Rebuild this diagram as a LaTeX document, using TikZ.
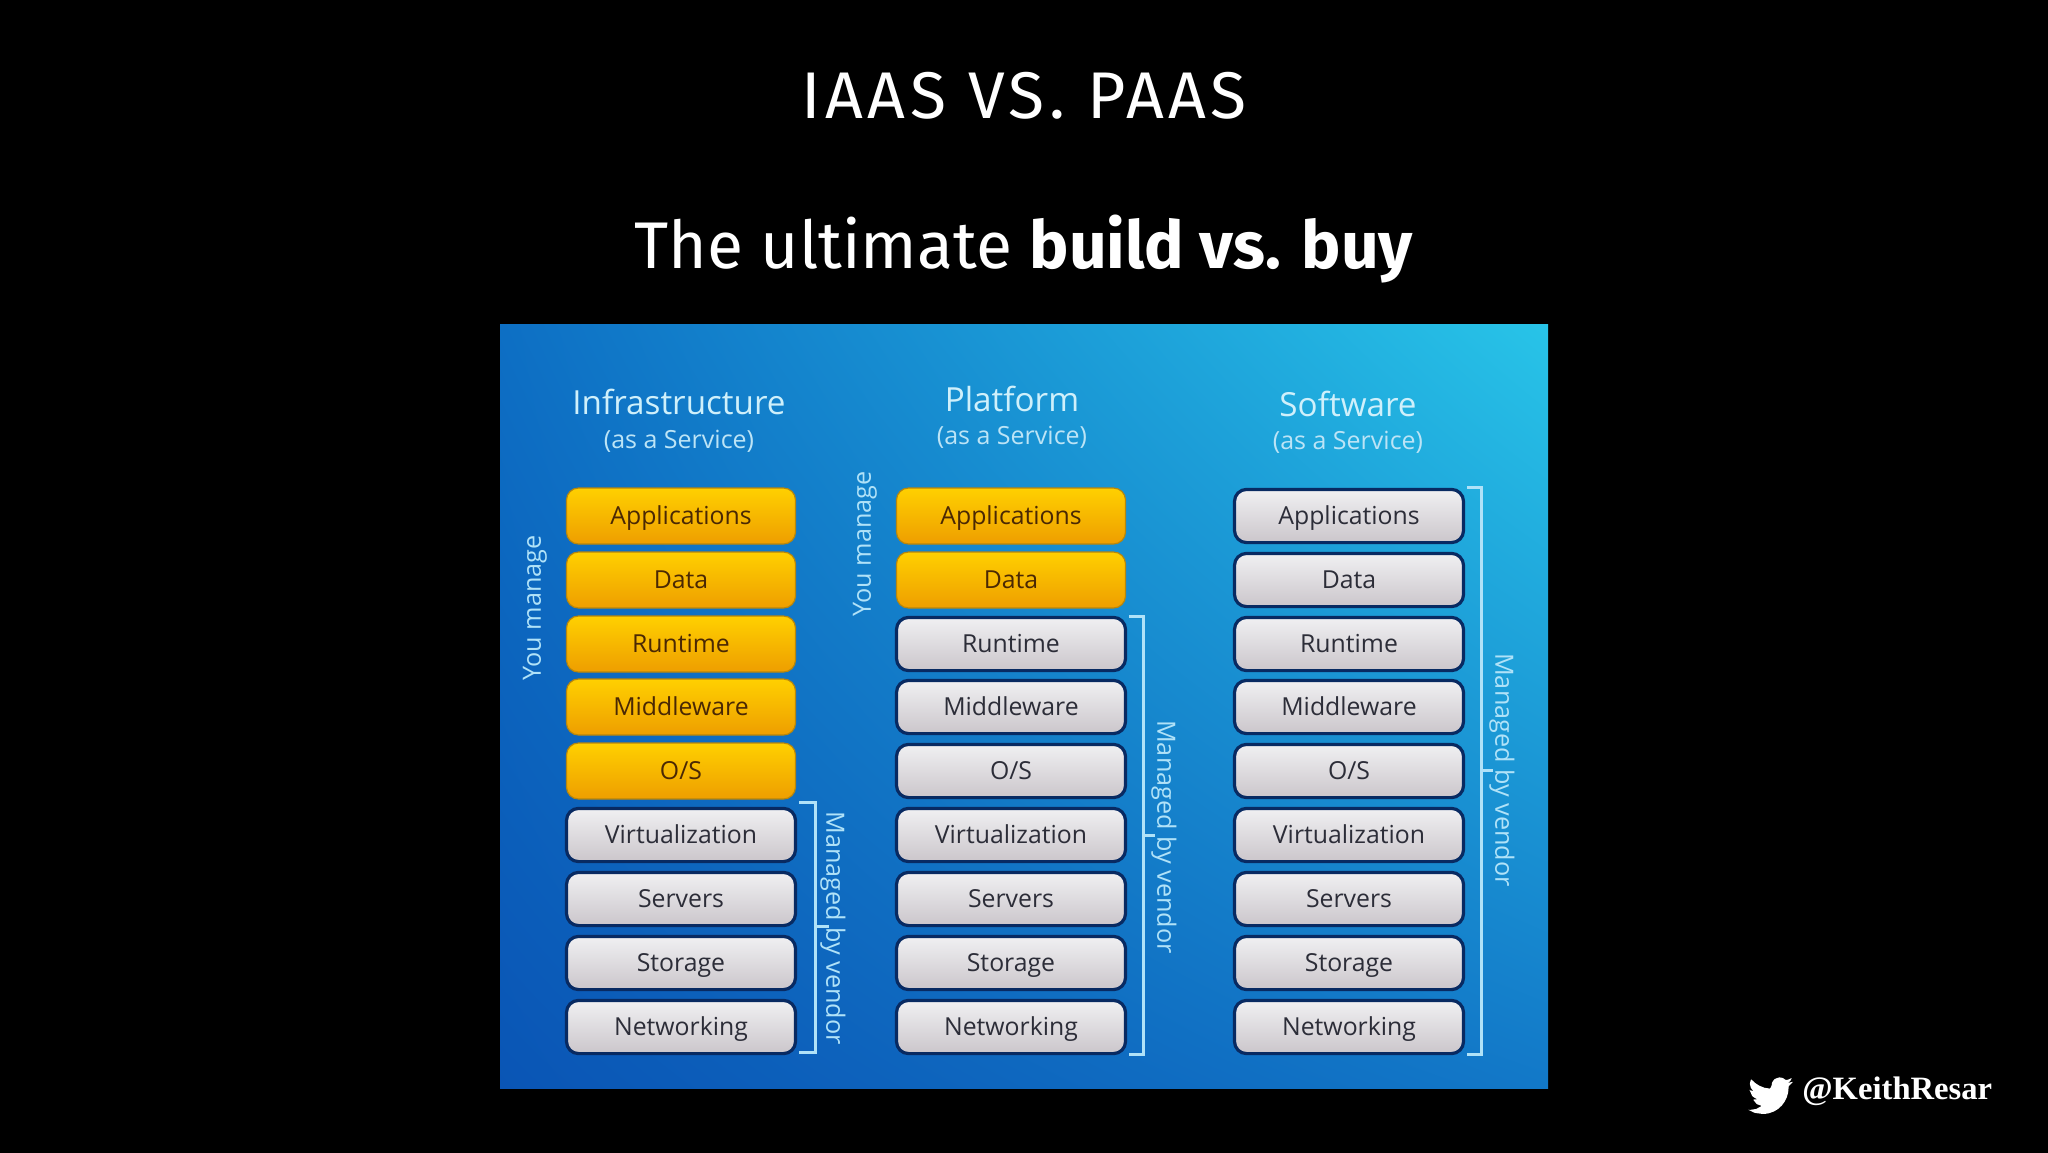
\documentclass[tikz,border=0pt]{standalone}
\usepackage{fontspec}
\usetikzlibrary{shadings}
\setmainfont{Open Sans}
\newfontfamily\headfont{Fira Sans}
\newfontfamily\headspaced[LetterSpace=7]{Fira Sans}
\newfontfamily\handlefont{Liberation Serif}
\definecolor{navy}{HTML}{082A62}
\definecolor{golded}{HTML}{B8860B}
\definecolor{labelblue}{HTML}{B0E2F8}
\definecolor{titleblue}{HTML}{CFF0FB}
\definecolor{subblue}{HTML}{BCE4F6}
\definecolor{goldtop}{HTML}{FFD000}
\definecolor{goldbot}{HTML}{EE9E00}
\definecolor{goldtext}{HTML}{4A2804}
\definecolor{greytop}{HTML}{F0F0F2}
\definecolor{greybot}{HTML}{CBC6CB}
\definecolor{greytext}{HTML}{2C2D38}
\definecolor{HBL}{HTML}{0A55B5}
\definecolor{HBR}{HTML}{1278C8}
\definecolor{HTL}{HTML}{0D6FC4}
\definecolor{HTR}{HTML}{28C4E8}
\tikzset{
  layer/.style={rounded corners=6pt,minimum width=114.5pt,inner sep=0pt,
    text height=9pt,text depth=1pt,font=\fontsize{12.4}{14}\selectfont},
  goldbox/.style={layer,minimum height=28pt,draw=golded,line width=.6pt,top color=goldtop,bottom color=goldbot,text=goldtext},
  greybox/.style={layer,minimum height=26.6pt,draw=navy,line width=1.6pt,top color=greytop,bottom color=greybot,text=greytext},
  bracket/.style={draw=labelblue,line width=1.5pt},
  sidelabel/.style={text=labelblue,inner sep=0pt,font=\fontsize{12.6}{14}\selectfont},
  svcname/.style={text=titleblue,inner sep=0pt,font=\fontsize{16.6}{19}\selectfont},
  svcsub/.style={text=subblue,inner sep=0pt,font=\fontsize{12.5}{14}\selectfont},
  headline/.style={text=white,inner sep=0pt,font=\headfont\fontsize{33}{38}\selectfont},
}
\begin{document}
\begin{tikzpicture}[x=0.5pt,y=-0.5pt]
\useasboundingbox (0,0) rectangle (2048,1152);
\fill[black] (-10,-10) rectangle (2058,1162);
\shade[lower left=HBL,lower right=HBR,upper left=HTL,upper right=HTR] (500,324) rectangle (1548,1088);
% headings
\node[headline,font=\headspaced\fontsize{33}{38}\selectfont] (head1) at (1024,96) {IAAS VS. PAAS};
\node[headline] (head2) at (1024,249) {The ultimate \textbf{build vs. buy}};
% service names
\node[svcname] (n1) at (679,402) {Infrastructure};
\node[svcsub] (s1) at (679,441) {(as a Service)};
\node[svcname] (n2) at (1012,399) {Platform};
\node[svcsub] (s2) at (1012,437) {(as a Service)};
\node[svcname] (n3) at (1348,404) {Software};
\node[svcsub] (s3) at (1348,442) {(as a Service)};
% stacks: column, centre x, number of gold rows
\foreach \c/\x/\g in {1/681/5,2/1011/2,3/1349/0}{
  \foreach \r/\y/\t in {1/516/Applications,2/580/Data,3/644/Runtime,4/707/Middleware,5/771/{O\slash S},6/835/Virtualization,7/899/Servers,8/963/Storage,9/1027/Networking}{
    \ifnum\r>\g
      \node[greybox] (c\c r\r) at (\x,\y) {\t};
    \else
      \node[goldbox] (c\c r\r) at (\x,\y) {\t};
    \fi
  }
}
% brackets
\coordinate (b1a) at (799,802); \coordinate (b1b) at (815,802); \coordinate (b1c) at (815,1052); \coordinate (b1d) at (799,1052);
\coordinate (b1m) at (815,926); \coordinate (b1t) at (829,926);
\coordinate (b2a) at (1129,616); \coordinate (b2b) at (1143,616); \coordinate (b2c) at (1143,1054); \coordinate (b2d) at (1129,1054);
\coordinate (b2m) at (1143,835); \coordinate (b2t) at (1155,835);
\coordinate (b3a) at (1467,487); \coordinate (b3b) at (1481,487); \coordinate (b3c) at (1481,1054); \coordinate (b3d) at (1467,1054);
\coordinate (b3m) at (1481,770); \coordinate (b3t) at (1493,770);
\foreach \k in {1,2,3}{
  \draw[bracket] (b\k a) -- (b\k b) -- (b\k c) -- (b\k d);
  \draw[bracket] (b\k m) -- (b\k t);
}
\node[sidelabel,rotate=-90] (m1) at (833,928) {Managed by vendor};
\node[sidelabel,rotate=-90] (m2) at (1164,837) {Managed by vendor};
\node[sidelabel,rotate=-90] (m3) at (1502,770) {Managed by vendor};
\node[sidelabel,rotate=90] (y1) at (535,608) {You manage};
\node[sidelabel,rotate=90] (y2) at (865,544) {You manage};
% twitter handle
\node[text=white,inner sep=0pt,anchor=west,font=\handlefont\bfseries\fontsize{16.3}{20}\selectfont] (handle) at (1802,1091) {@KeithResar};
\begin{scope}[shift={(1748,1073)},x=0.94pt,y=-0.94pt]
\fill[white,rounded corners=0.3pt] (24,4.6) -- (21.1,5.35) -- (22.5,4.2) -- (23.3,2.6) -- (21.7,3.4) -- (20.2,3.8) -- (18.4,2.6) -- (16.6,2.3) -- (14.1,3.2) -- (12.8,5) -- (12.6,6.5) -- (11.8,8.3)
 .. controls (7.7,8.1) and (4.1,6.1) .. (1.6,3.2) -- (1,5.6) .. controls (1,7.3) and (1.8,8.9) .. (3.2,9.7) -- (.9,9.1) -- (.9,9.2) -- (2.3,12.4) -- (4.9,14) -- (2.7,14.1) -- (4.6,16.5) -- (7.3,17.5) -- (4.4,19.1) -- (1.2,19.6) -- (0,19.5) -- (3.6,21.2) -- (7.6,21.75)
 .. controls (16.6,21.75) and (21.55,14.3) .. (21.55,7.8) -- (21.55,7.1) -- cycle;
\end{scope}
\end{tikzpicture}
\end{document}
